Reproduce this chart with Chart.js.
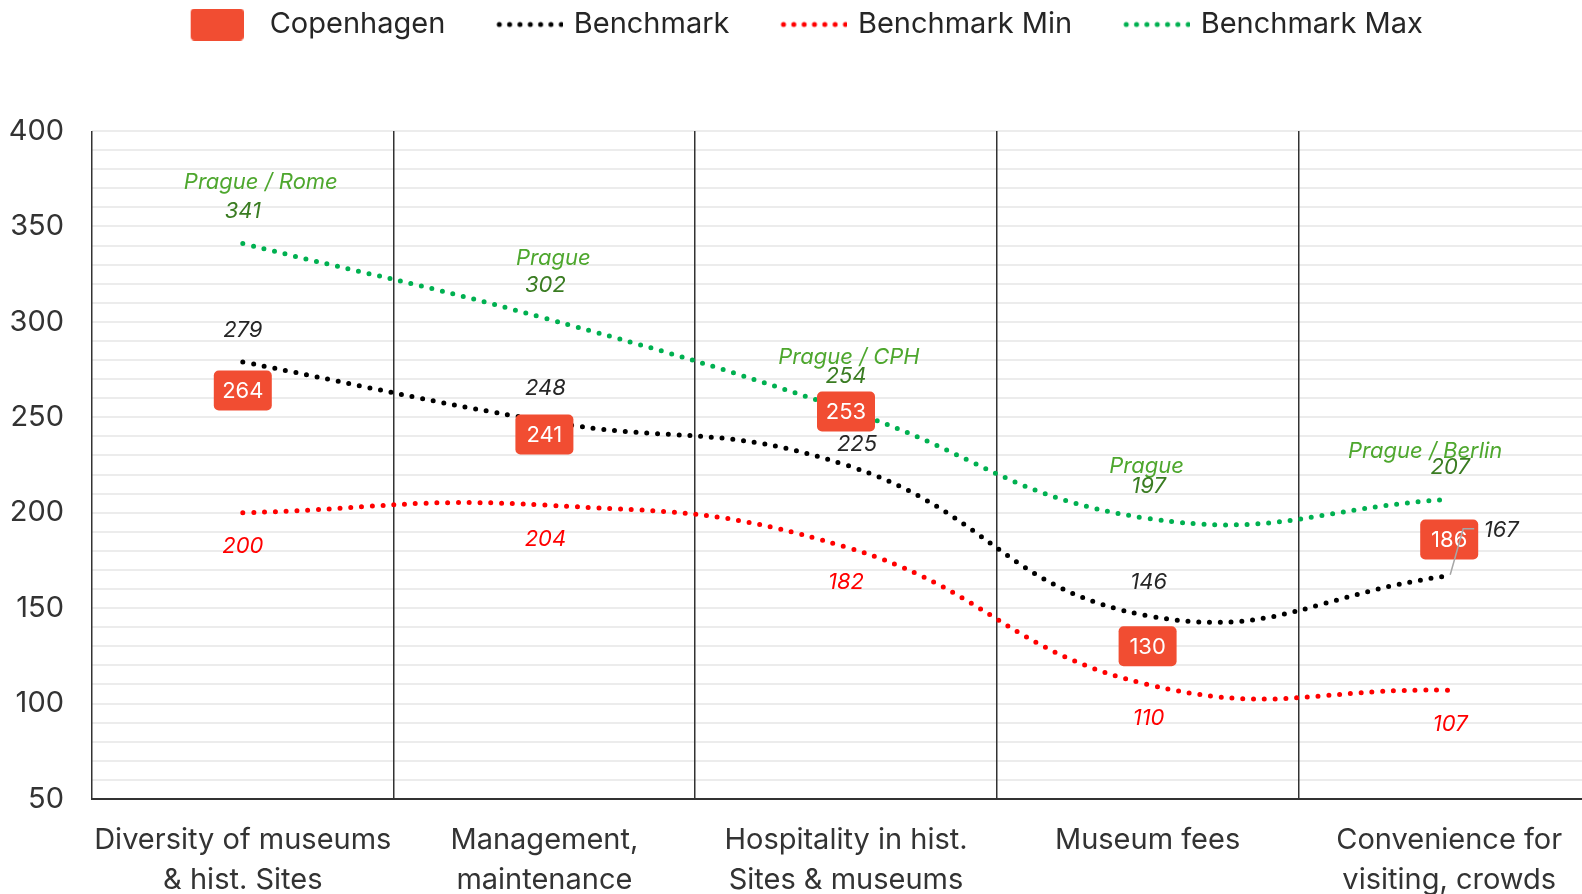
<!DOCTYPE html>
<html>
<head>
<meta charset="utf-8">
<script src="https://cdn.jsdelivr.net/npm/chart.js@4.4.1/dist/chart.umd.min.js"></script>
<style>
  html, body { margin: 0; padding: 0; background: #fff; overflow: hidden; }
  #wrap { width: 1600px; height: 894px; }
</style>
</head>
<body>
<div id="wrap"><canvas id="c" width="1600" height="894"></canvas></div>
<script>
// ---- data ----
const categories = [
  ['Diversity of museums', '& hist. Sites'],
  ['Management,', 'maintenance'],
  ['Hospitality in hist.', 'Sites & museums'],
  ['Museum fees'],
  ['Convenience for', 'visiting, crowds']
];
const copenhagen = [264, 241, 253, 130, 186];
const benchmark = [279, 248, 225, 146, 167];
const benchmarkMin = [200, 204, 182, 110, 107];
const benchmarkMax = [341, 302, 254, 197, 207];
const maxCities = ['Prague / Rome', 'Prague', 'Prague / CPH', 'Prague', 'Prague / Berlin'];
const yTickMin = 50, yTickMax = 400, yTickStep = 50;

// ---- style ----
const FONT = 'Inter, "Noto Sans", sans-serif';
const RED_BOX = '#F14D32';
const C_BLACK = '#000000', C_RED = '#FF0000', C_GREEN = '#00B050';
const maxNameOff = [[18, -61], [9, -60], [3, -52], [-1, -52], [-24, -48]];
const maxValOff = [[0, -32], [1, -33], [0, -33], [1, -32], [1, -32]];
const benchOff = [[0, -32], [1, -33], [11, -21], [1, -33], [52, -45]];
const minOff = [[0, 34], [1, 34], [0, 35], [1, 34], [1, 34]];

function dotIcon(color) {
  const c = document.createElement('canvas');
  c.width = 112; c.height = 8;
  const g = c.getContext('2d');
  g.fillStyle = color;
  for (let k = 0; k < 7; k++) {
    g.beginPath(); g.arc(48 + k * 10.33, 4, 2.5, 0, Math.PI * 2); g.fill();
  }
  return c;
}
function boxIcon(color) {
  const c = document.createElement('canvas');
  c.width = 81; c.height = 32;
  const g = c.getContext('2d');
  g.fillStyle = color;
  g.beginPath(); g.roundRect(28, 0, 53, 32, 4); g.fill();
  return c;
}
const legendIcons = [boxIcon(RED_BOX), dotIcon(C_BLACK), dotIcon(C_RED), dotIcon(C_GREEN)];

const labelPlugin = {
  id: 'valueLabels',
  afterDatasetsDraw(chart) {
    const ctx = chart.ctx;
    ctx.save();
    // Copenhagen boxes
    const m0 = chart.getDatasetMeta(0);
    m0.data.forEach((pt, i) => {
      ctx.fillStyle = RED_BOX;
      ctx.beginPath(); ctx.roundRect(pt.x - 29, pt.y - 20, 58, 40, 5); ctx.fill();
      ctx.fillStyle = '#ffffff';
      ctx.font = '22px ' + FONT;
      ctx.textAlign = 'center'; ctx.textBaseline = 'middle';
      ctx.fillText(String(copenhagen[i]), pt.x, pt.y + 1);
    });
    // leader line for last benchmark label
    const mb = chart.getDatasetMeta(1);
    const lp = mb.data[4];
    ctx.strokeStyle = '#A6A6A6'; ctx.lineWidth = 1.5;
    ctx.beginPath();
    ctx.moveTo(lp.x + 1, lp.y - 1);
    ctx.lineTo(lp.x + 14, lp.y - 47);
    ctx.lineTo(lp.x + 25, lp.y - 47);
    ctx.stroke();

    ctx.font = 'italic 22px ' + FONT;
    ctx.textAlign = 'center'; ctx.textBaseline = 'middle';
    // benchmark
    mb.data.forEach((pt, i) => {
      ctx.fillStyle = '#262626';
      ctx.fillText(String(benchmark[i]), pt.x + benchOff[i][0], pt.y + benchOff[i][1]);
    });
    // min
    chart.getDatasetMeta(2).data.forEach((pt, i) => {
      ctx.fillStyle = C_RED;
      ctx.fillText(String(benchmarkMin[i]), pt.x + minOff[i][0], pt.y + minOff[i][1]);
    });
    // max
    chart.getDatasetMeta(3).data.forEach((pt, i) => {
      ctx.fillStyle = '#4EA72E';
      ctx.fillText(maxCities[i], pt.x + maxNameOff[i][0], pt.y + maxNameOff[i][1]);
      ctx.fillStyle = '#3A7C22';
      ctx.fillText(String(benchmarkMax[i]), pt.x + maxValOff[i][0], pt.y + maxValOff[i][1]);
    });
    ctx.restore();
  }
};

const dotted = (label, data, color) => ({
  label, data,
  borderColor: color, backgroundColor: color,
  borderWidth: 5, borderDash: [0, 10.8], borderCapStyle: 'round',
  tension: 0.45, pointRadius: 0, fill: false
});

new Chart(document.getElementById('c'), {
  type: 'line',
  data: {
    labels: categories,
    datasets: [
      { label: 'Copenhagen', data: copenhagen, showLine: false, pointRadius: 0,
        borderColor: RED_BOX, backgroundColor: RED_BOX },
      dotted('Benchmark', benchmark, C_BLACK),
      dotted('Benchmark Min', benchmarkMin, C_RED),
      dotted('Benchmark Max', benchmarkMax, C_GREEN)
    ]
  },
  options: {
    responsive: false,
    animation: false,
    devicePixelRatio: 1,
    layout: { padding: { left: -26, right: 0, top: 0, bottom: 0 } },
    plugins: {
      legend: {
        position: 'top',
        labels: {
          usePointStyle: true,
          pointStyleWidth: 104,
          padding: 10,
          color: '#262626',
          font: { family: FONT, size: 29 },
          generateLabels(chart) {
            const items = Chart.defaults.plugins.legend.labels.generateLabels(chart);
            items.forEach((it, i) => { it.pointStyle = legendIcons[i]; });
            return items;
          }
        }
      },
      title: {
        display: true, text: ' ', weight: 500,
        font: { size: 1, lineHeight: 1 },
        padding: { top: 0, bottom: 81 }
      },
      tooltip: { enabled: false }
    },
    scales: {
      x: {
        offset: true,
        grid: { offset: true, color: '#333333', lineWidth: 1.5, drawTicks: false, z: -1 },
        border: { display: true, color: '#333333', width: 2 },
        ticks: {
          color: '#333333', font: { family: FONT, size: 29, lineHeight: 1.36 },
          padding: 22, maxRotation: 0, autoSkip: false
        },
        afterFit(s) { s.height = 95; }
      },
      y: {
        min: yTickMin, max: yTickMax,
        grid: { color: '#ECECEC', lineWidth: 2, drawTicks: false, z: -2 },
        border: { display: false },
        ticks: {
          stepSize: 10, autoSkip: false, color: '#333333', padding: 28,
          font: { family: FONT, size: 29 },
          callback: v => (v % yTickStep === 0 ? String(v) : '')
        },
        afterFit(s) { s.width = 118; }
      }
    }
  },
  plugins: [labelPlugin]
});
</script>
</body>
</html>
